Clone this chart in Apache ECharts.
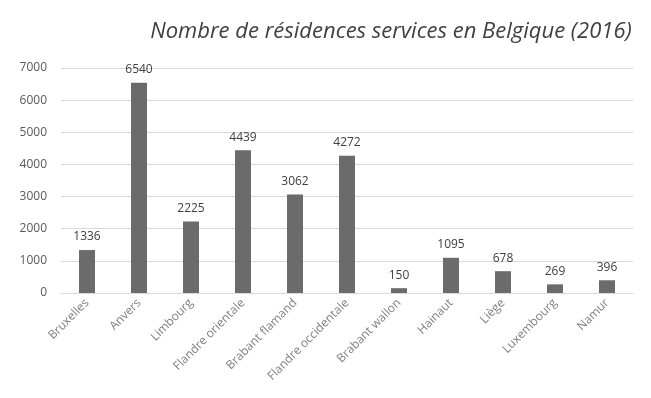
<!DOCTYPE html>
<html>
<head>
<meta charset="utf-8">
<script src="https://cdn.jsdelivr.net/npm/echarts@6/dist/echarts.min.js"></script>
<style>
  html, body { margin: 0; padding: 0; background: #fff; }
  #chart { width: 651px; height: 398px; }
</style>
</head>
<body>
<div id="chart"></div>
<script>
// Provinces and number of service residences (2016)
const categories = ['Bruxelles', 'Anvers', 'Limbourg', 'Flandre orientale', 'Brabant flamand',
  'Flandre occidentale', 'Brabant wallon', 'Hainaut', 'Liège', 'Luxembourg', 'Namur'];
const values = [1336, 6540, 2225, 4439, 3062, 4272, 150, 1095, 678, 269, 396];
const yTicks = { min: 0, max: 7000, interval: 1000 };

const chart = echarts.init(document.getElementById('chart'));
chart.setOption({
  animation: false,
  title: {
    text: 'Nombre de résidences services en Belgique (2016)',
    left: 386,
    top: 16,
    textAlign: 'center',
    textStyle: {
      fontFamily: 'Open Sans',
      fontStyle: 'italic',
      fontWeight: 'normal',
      fontSize: 22,
      color: '#404040'
    }
  },
  grid: { left: 61, right: 18, top: 68, bottom: 105 },
  xAxis: {
    type: 'category',
    data: categories,
    axisLine: { lineStyle: { color: '#d9d9d9' } },
    axisTick: { show: false },
    axisLabel: {
      rotate: 45,
      interval: 0,
      color: '#7f7f7f',
      fontFamily: 'Open Sans',
      fontSize: 12,
      margin: 8
    }
  },
  yAxis: {
    type: 'value',
    min: yTicks.min,
    max: yTicks.max,
    interval: yTicks.interval,
    axisLine: { show: false },
    axisTick: { show: false },
    splitLine: { lineStyle: { color: '#d9d9d9' } },
    axisLabel: {
      color: '#595959',
      fontFamily: 'Open Sans',
      fontSize: 12,
      margin: 14,
      formatter: (v) => String(v)
    }
  },
  series: [{
    type: 'bar',
    data: values,
    barWidth: 16,
    itemStyle: { color: '#6b6b6b' },
    label: {
      show: true,
      position: 'top',
      distance: 7,
      color: '#404040',
      fontFamily: 'Open Sans',
      fontSize: 12
    }
  }]
});
</script>
</body>
</html>
